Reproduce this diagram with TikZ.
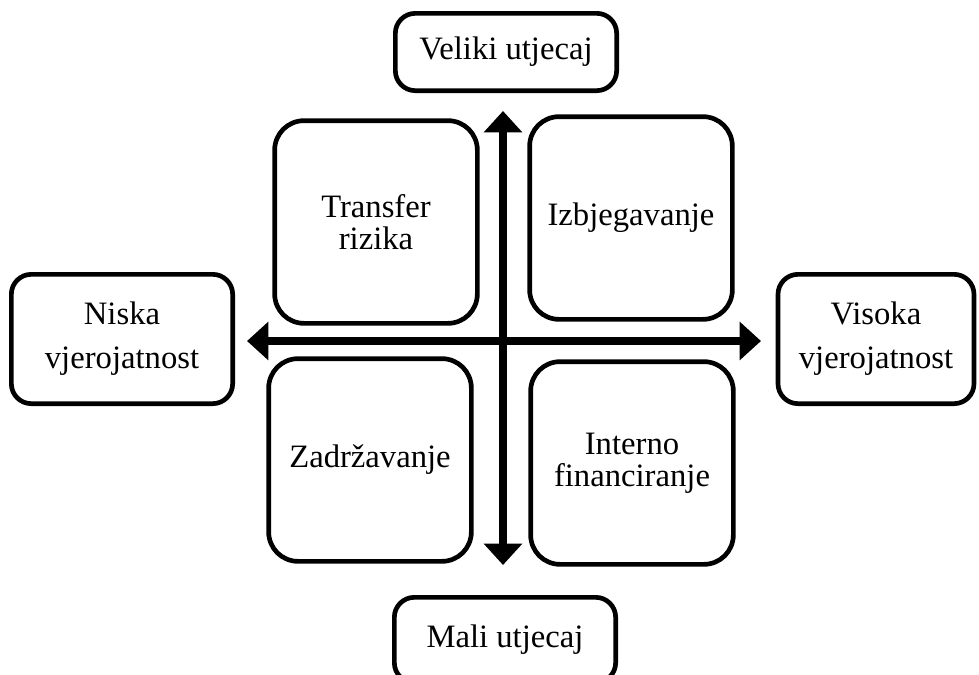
\documentclass[tikz,border=0pt]{standalone}
\usepackage{fontspec}
\setmainfont{Liberation Serif}
\usetikzlibrary{arrows.meta}
\tikzset{
	kvadrant/.style={draw, line width=3.5pt, rounded corners=22pt, minimum width=152pt, minimum height=152pt, align=center, font=\fontsize{24.5}{24}\selectfont},
	oznaka/.style={draw, line width=3.5pt, rounded corners=15pt, align=center, font=\fontsize{24.5}{33}\selectfont},
	os/.style={line width=6pt, {Triangle[length=16pt,width=28pt]}-{Triangle[length=16pt,width=28pt]}},
}
\begin{document}
\begin{tikzpicture}[x=0.75pt, y=-0.75pt]
	\useasboundingbox (0, 0) rectangle (979, 675);

	% osi
	\coordinate (gore) at (503, 111);
	\coordinate (dolje) at (503, 565);
	\coordinate (lijevo) at (247, 341);
	\coordinate (desno) at (761, 341);
	\draw[os] (dolje) -- (gore);
	\draw[os] (lijevo) -- (desno);

	% kvadranti
	\node[kvadrant] (transfer) at (376, 222) {Transfer\\rizika};
	\node[kvadrant] (izbjegavanje) at (631, 218) {Izbjegavanje};
	\node[kvadrant] (zadrzavanje) at (370, 460) {Zadržavanje};
	\node[kvadrant] (interno) at (632, 463) {Interno\\financiranje};

	% oznake osi
	\node[oznaka, minimum width=166pt, minimum height=58pt] (veliki) at (506, 52) {Veliki utjecaj};
	\node[oznaka, minimum width=166pt, minimum height=64pt] (mali) at (505, 640) {Mali utjecaj};
	\node[oznaka, minimum width=166pt, minimum height=97pt] (niska) at (122, 339) {Niska\\vjerojatnost};
	\node[oznaka, minimum width=147pt, minimum height=97pt] (visoka) at (876, 339) {Visoka\\vjerojatnost};
\end{tikzpicture}
\end{document}
